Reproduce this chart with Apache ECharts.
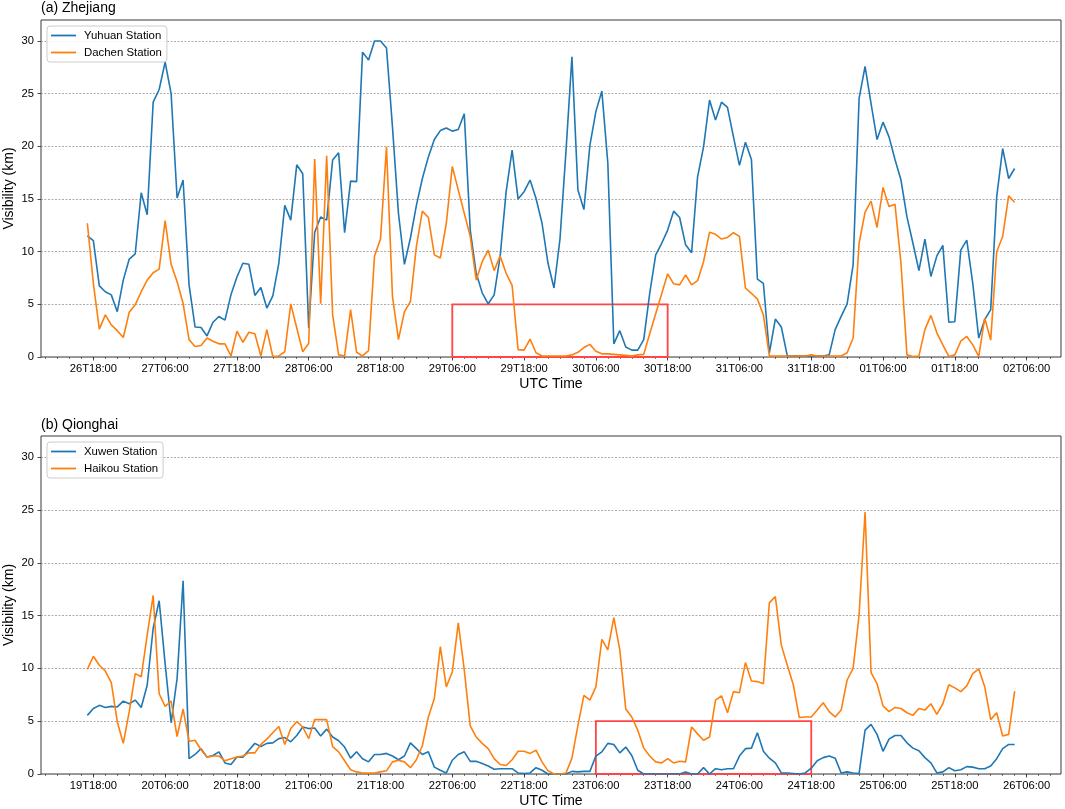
<!DOCTYPE html>
<html>
<head>
<meta charset="utf-8">
<script src="https://cdn.jsdelivr.net/npm/echarts@6/dist/echarts.min.js"></script>
<style>
html,body{margin:0;padding:0;background:#fff;}
#chart{width:1065px;height:809px;}
</style>
</head>
<body>
<div id="chart"></div>
<script>
// ---------- Panel (a) Zhejiang: hourly data from 26T17:00 to 02T04:00 ----------
const zjStartHour = 17; // hours after 26T00:00
const zjTickLabels = ['26T18:00','27T06:00','27T18:00','28T06:00','28T18:00','29T06:00','29T18:00',
  '30T06:00','30T18:00','31T06:00','31T18:00','01T06:00','01T18:00','02T06:00'];
const yuhuan = [
  11.5, 11.05, 6.75, 6.2, 5.9, 4.3, 7.3, 9.3, 9.8, 15.6,
  13.5, 24.2, 25.4, 28.0, 25.0, 15.1, 16.8, 6.85, 2.85, 2.8,
  2.0, 3.3, 3.85, 3.5, 5.9, 7.6, 8.9, 8.8, 5.85, 6.6,
  4.65, 5.8, 8.9, 14.4, 13.0, 18.25, 17.4, 2.75, 11.85, 13.3,
  13.0, 18.7, 19.4, 11.8, 16.7, 16.65, 28.95, 28.2, 30.0, 30.0,
  29.35, 21.85, 13.65, 8.8, 11.3, 14.4, 16.95, 19.0, 20.65, 21.5,
  21.75, 21.45, 21.6, 23.1, 12.05, 7.95, 6.1, 5.05, 5.9, 9.55,
  15.7, 19.65, 15.0, 15.7, 16.8, 15.05, 12.7, 8.9, 6.55, 11.2,
  19.5, 28.5, 15.85, 14.0, 20.1, 23.3, 25.25, 18.4, 1.25, 2.5,
  0.95, 0.65, 0.65, 1.65, 6.05, 9.7, 10.8, 12.05, 13.85, 13.25,
  10.65, 9.9, 17.1, 19.95, 24.4, 22.5, 24.2, 23.7, 20.9, 18.2,
  20.4, 18.75, 7.4, 7.0, 0.4, 3.6, 2.85, 0.1, 0.1, 0.1,
  0.1, 0.1, 0.1, 0.1, 0.2, 2.6, 3.85, 5.05, 8.75, 24.55,
  27.6, 24.05, 20.65, 22.3, 20.9, 18.75, 16.8, 13.3, 10.8, 8.2,
  11.2, 7.65, 9.6, 10.6, 3.3, 3.35, 10.15, 11.1, 7.0, 1.8,
  3.55, 4.5, 15.2, 19.8, 16.95, 17.9
];
const dachen = [
  12.7, 7.0, 2.65, 4.0, 3.05, 2.5, 1.85, 4.25, 4.95, 6.2,
  7.3, 8.0, 8.35, 12.95, 8.8, 7.15, 5.1, 1.65, 1.0, 1.1,
  1.8, 1.5, 1.25, 1.25, 0.1, 2.45, 1.4, 2.35, 2.2, 0.1,
  2.6, 0.05, 0.1, 0.5, 5.05, 2.75, 0.5, 1.3, 18.8, 5.05,
  19.1, 4.0, 0.2, 0.1, 4.5, 0.45, 0.1, 0.6, 9.6, 11.2,
  19.95, 5.75, 1.65, 4.3, 5.25, 10.5, 13.85, 13.25, 9.7, 9.4,
  12.7, 18.1, 15.85, 13.65, 11.45, 7.3, 9.05, 10.15, 8.2, 9.6,
  7.95, 6.8, 0.7, 0.65, 1.7, 0.4, 0.1, 0.1, 0.1, 0.1,
  0.1, 0.2, 0.45, 0.9, 1.2, 0.55, 0.3, 0.3, 0.25, 0.2,
  0.15, 0.1, 0.2, 0.25, 2.2, 4.1, 6.0, 7.9, 6.95, 6.85,
  7.8, 6.85, 7.25, 9.05, 11.85, 11.65, 11.2, 11.35, 11.8, 11.45,
  6.55, 6.05, 5.5, 4.0, 0.1, 0.1, 0.1, 0.1, 0.1, 0.1,
  0.1, 0.2, 0.1, 0.1, 0.1, 0.1, 0.1, 0.4, 1.8, 10.8,
  13.75, 14.8, 12.3, 16.1, 14.3, 14.5, 8.9, 0.2, 0.05, 0.1,
  2.6, 3.95, 2.3, 1.15, 0.05, 0.2, 1.5, 1.95, 1.15, 0.05,
  3.7, 1.6, 10.0, 11.45, 15.3, 14.7
];
const zjBox = [78, 114, 0, 5]; // 29T06:00 .. 30T18:00, 0..5 km

// ---------- Panel (b) Qionghai: hourly data from 19T17:00 to 26T04:00 ----------
const qhStartHour = 17; // hours after 19T00:00
const qhTickLabels = ['19T18:00','20T06:00','20T18:00','21T06:00','21T18:00','22T06:00','22T18:00',
  '23T06:00','23T18:00','24T06:00','24T18:00','25T06:00','25T18:00','26T06:00'];
const xuwen = [
  5.55, 6.2, 6.5, 6.3, 6.4, 6.35, 6.9, 6.65, 7.0, 6.3,
  8.4, 13.8, 16.4, 10.45, 4.85, 9.05, 18.3, 1.45, 1.85, 2.4,
  1.6, 1.75, 2.1, 1.05, 0.9, 1.6, 1.6, 2.25, 2.9, 2.6,
  2.9, 2.95, 3.35, 3.45, 3.05, 3.65, 4.45, 4.3, 4.35, 3.6,
  4.25, 3.5, 3.15, 2.55, 1.5, 2.1, 1.45, 1.15, 1.85, 1.85,
  1.95, 1.7, 1.35, 1.7, 2.95, 2.4, 1.85, 2.1, 0.65, 0.35,
  0.1, 1.3, 1.85, 2.1, 1.2, 1.2, 1.0, 0.75, 0.45, 0.5,
  0.5, 0.5, 0.1, 0.05, 0.1, 0.6, 0.35, 0, 0, 0,
  0, 0.25, 0.2, 0.25, 0.25, 1.7, 2.1, 2.9, 2.8, 2.0,
  2.55, 1.75, 0.35, 0, 0, 0, 0, 0, 0, 0,
  0.2, 0, 0, 0.6, 0, 0.5, 0.4, 0.5, 0.5, 1.7,
  2.4, 2.45, 3.9, 2.15, 1.5, 1.05, 0.1, 0.1, 0.05, 0,
  0.1, 0.55, 1.25, 1.55, 1.7, 1.5, 0.1, 0.2, 0.1, 0.05,
  4.15, 4.7, 3.75, 2.15, 3.3, 3.65, 3.65, 2.95, 2.45, 2.2,
  1.55, 1.05, 0.1, 0.2, 0.6, 0.3, 0.4, 0.7, 0.65, 0.5,
  0.5, 0.75, 1.45, 2.4, 2.8, 2.8
];
const haikou = [
  9.9, 11.15, 10.3, 9.75, 8.65, 4.95, 2.9, 5.9, 9.5, 9.2,
  13.15, 16.9, 7.6, 6.4, 6.9, 3.55, 6.15, 3.1, 3.2, 2.3,
  1.6, 1.7, 1.7, 1.25, 1.45, 1.6, 1.7, 2.0, 2.0, 2.8,
  3.3, 3.9, 4.5, 2.8, 4.3, 4.95, 4.45, 3.35, 5.15, 5.15,
  5.15, 2.6, 2.1, 1.25, 0.4, 0.2, 0.1, 0.1, 0.1, 0.2,
  0.3, 1.15, 1.3, 1.15, 0.6, 1.35, 2.7, 5.4, 7.15, 12.05,
  8.25, 9.65, 14.3, 9.85, 4.55, 3.5, 2.9, 2.4, 1.45, 0.9,
  0.8, 1.35, 2.15, 2.15, 1.95, 2.25, 1.15, 0.3, 0, 0,
  0.1, 1.5, 4.6, 7.45, 7.0, 8.25, 12.75, 11.75, 14.8, 11.75,
  6.15, 5.4, 4.15, 2.45, 1.7, 1.15, 1.05, 1.45, 1.05, 1.2,
  1.15, 4.45, 3.8, 3.2, 3.5, 7.0, 7.4, 5.8, 7.8, 7.7,
  10.55, 8.8, 8.75, 8.55, 16.2, 16.8, 12.2, 10.3, 8.45, 5.35,
  5.4, 5.4, 6.05, 6.75, 5.9, 5.4, 6.05, 8.9, 10.0, 15.05,
  24.8, 9.6, 8.55, 6.45, 5.9, 6.3, 6.2, 5.8, 5.55, 6.2,
  6.05, 6.65, 5.65, 6.65, 8.45, 8.15, 7.8, 8.35, 9.5, 9.95,
  8.25, 5.15, 5.8, 3.6, 3.75, 7.85
];
const qhBox = [102, 138, 0, 5]; // 23T06:00 .. 24T18:00, 0..5 km

const yTicks = [0, 5, 10, 15, 20, 25, 30];

// ---------- build ----------
const FONT = '"Liberation Sans", Arial, sans-serif';
const BLUE = '#1f77b4', ORANGE = '#ff7f0e';

function toPairs(start, vals) { return vals.map((v, i) => [start + i, v]); }

function xAxes(gridIndex, labels, n, start) {
  const firstTick = 18, step = 12;
  const dataMin = start, dataMax = start + n - 1;
  const pad = (dataMax - dataMin) * 0.05;
  const min = dataMin - pad, max = dataMax + pad;
  const major = labels.map((_, k) => firstTick + step * k);
  const minor = [];
  for (let h = Math.ceil(min / 2) * 2; h <= max; h += 2) minor.push(h);
  return [
    {
      type: 'value', gridIndex, min, max, position: 'bottom',
      axisLine: { show: false }, splitLine: { show: false },
      axisTick: { show: true, customValues: major, length: 3.5, lineStyle: { color: '#222', width: 0.8 } },
      axisLabel: { customValues: major, formatter: v => labels[Math.round((v - firstTick) / step)] || '',
        margin: 6, fontSize: 11.2, color: '#000', fontFamily: FONT },
      name: 'UTC Time', nameLocation: 'middle', nameGap: 20, nameMoveOverlap: false,
      nameTextStyle: { fontSize: 14, color: '#000', fontFamily: FONT }
    },
    {
      type: 'value', gridIndex, min, max, position: 'bottom',
      axisLine: { show: false }, splitLine: { show: false },
      axisTick: { show: true, customValues: minor, length: 2, lineStyle: { color: '#222', width: 0.6 } },
      axisLabel: { show: false }
    }
  ];
}

function yAxis(gridIndex) {
  return {
    type: 'value', gridIndex, min: 0, max: 32, interval: 5,
    axisLine: { show: false },
    axisTick: { show: true, customValues: yTicks, length: 3.5, lineStyle: { color: '#222', width: 0.8 } },
    axisLabel: { customValues: yTicks, margin: 7, fontSize: 11.2, color: '#000', fontFamily: FONT },
    splitLine: { show: true, lineStyle: { color: '#8a8a8a', width: 0.7, type: [2, 1.5] } },
    name: 'Visibility (km)', nameLocation: 'middle', nameGap: 25, nameMoveOverlap: false,
    nameTextStyle: { fontSize: 14, color: '#000', fontFamily: FONT }
  };
}

function lineSeries(name, color, xIdx, yIdx, start, vals, box) {
  const s = {
    name, type: 'line', xAxisIndex: xIdx, yAxisIndex: yIdx,
    data: toPairs(start, vals), symbol: 'none', showSymbol: false,
    lineStyle: { color, width: 1.6 }, itemStyle: { color },
    animation: false, z: 3
  };
  if (box) {
    s.markArea = {
      silent: true,
      itemStyle: { color: 'rgba(0,0,0,0)', borderColor: '#ff4545', borderWidth: 1.8 },
      data: [[{ xAxis: box[0], yAxis: box[2] }, { xAxis: box[1], yAxis: box[3] }]]
    };
  }
  return s;
}

function legend(names, top) {
  return {
    data: names, orient: 'vertical', left: 47, top,
    icon: 'rect', itemWidth: 25, itemHeight: 1.8, itemGap: 4,
    padding: [3, 5, 3, 4],
    backgroundColor: 'rgba(255,255,255,0.85)', borderColor: '#cccccc', borderWidth: 1, borderRadius: 3,
    textStyle: { fontSize: 11.4, color: '#000', fontFamily: FONT, lineHeight: 13, padding: [0, 0, 0, 3] },
    selectedMode: false
  };
}

const gridStyle = { show: true, borderColor: '#222', borderWidth: 0.9, backgroundColor: 'transparent',
  containLabel: false, outerBoundsMode: 'none' };

const titleStyle = { fontSize: 14, fontWeight: 'normal', color: '#000', fontFamily: FONT };

const option = {
  backgroundColor: '#fff',
  animation: false,
  textStyle: { fontFamily: FONT },
  title: [
    { text: '(a) Zhejiang', left: 38, top: 1, padding: [0, 3, 0, 3], textStyle: titleStyle },
    { text: '(b) Qionghai', left: 38, top: 418, padding: [0, 3, 0, 3], textStyle: titleStyle }
  ],
  grid: [
    Object.assign({ left: 41, top: 20, width: 1020, height: 337 }, gridStyle),
    Object.assign({ left: 41, top: 436, width: 1020, height: 338 }, gridStyle)
  ],
  xAxis: [
    ...xAxes(0, zjTickLabels, yuhuan.length, zjStartHour),
    ...xAxes(1, qhTickLabels, xuwen.length, qhStartHour)
  ],
  yAxis: [yAxis(0), yAxis(1)],
  legend: [
    legend(['Yuhuan Station', 'Dachen Station'], 26),
    legend(['Xuwen Station', 'Haikou Station'], 442)
  ],
  series: [
    lineSeries('Yuhuan Station', BLUE, 0, 0, zjStartHour, yuhuan, null),
    lineSeries('Dachen Station', ORANGE, 0, 0, zjStartHour, dachen, zjBox),
    lineSeries('Xuwen Station', BLUE, 2, 1, qhStartHour, xuwen, null),
    lineSeries('Haikou Station', ORANGE, 2, 1, qhStartHour, haikou, qhBox)
  ]
};

const chart = echarts.init(document.getElementById('chart'), null, { renderer: 'canvas' });
chart.setOption(option);
</script>
</body>
</html>
